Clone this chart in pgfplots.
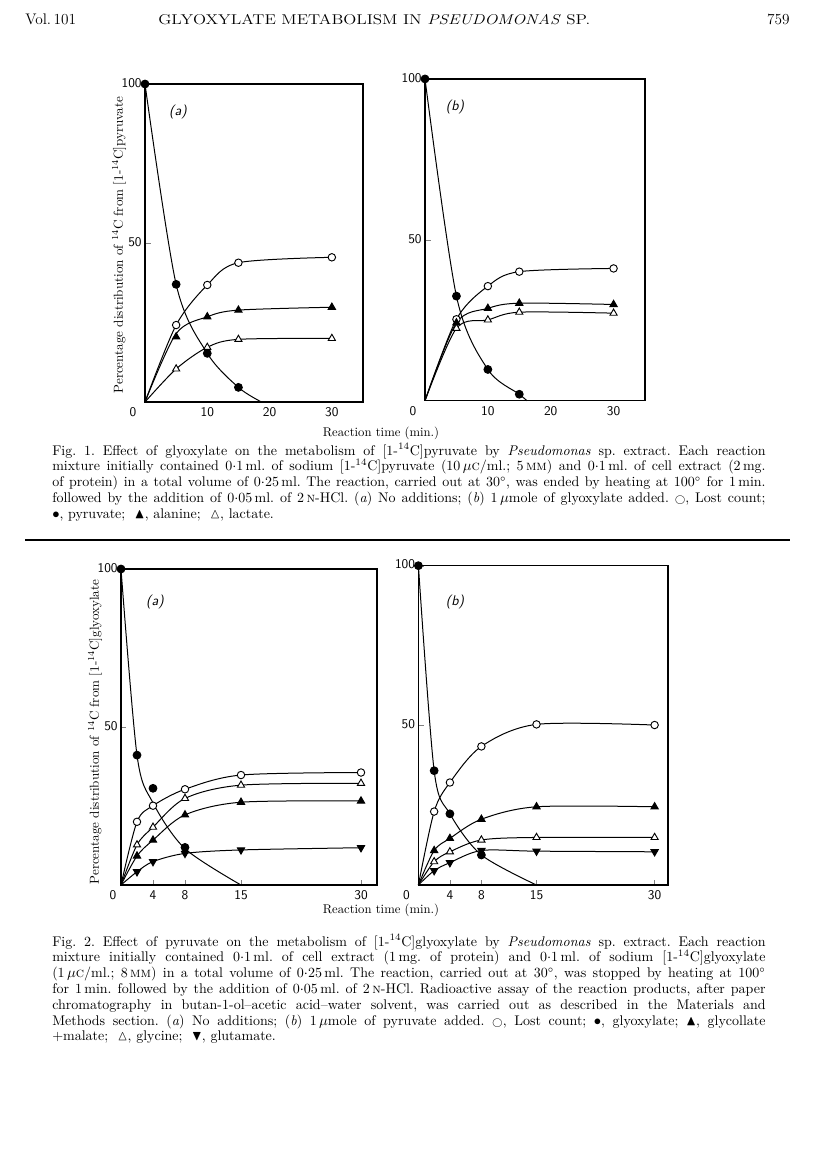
\documentclass[border=0pt]{standalone}
\usepackage{pgfplots}
\pgfplotsset{compat=1.18}
\usepackage{amssymb}
\usepackage{graphicx}
\pgfplotsset{
  pg/.style={scale only axis, xmin=0, ymin=0, ymax=100, clip=false,
    axis line style={line width=0.9pt}, tick pos=left, tick align=inside,
    major tick length=4.5pt, ytick={50,100},
    /pgf/number format/assume math mode=true,
    typeset ticklabels with strut,
    tick label style={font=\sffamily\fontsize{10}{12}\selectfont},
    yticklabel style={xshift=1pt},
    xticklabel style={yshift=1pt},
    every axis plot/.append style={line width=0.75pt, black}},
  cv/.style={smooth, no marks, tension=0.5},
  oc/.style={only marks, mark=*, mark size=2.8pt, mark options={fill=white, draw=black, line width=0.7pt}},
  fc/.style={only marks, mark=*, mark size=2.9pt, mark options={fill=black, draw=black}},
  ft/.style={only marks, mark=triangle*, mark size=3.1pt, mark options={fill=black, draw=black}},
  ot/.style={only marks, mark=triangle*, mark size=3.1pt, mark options={fill=white, draw=black, line width=0.7pt}},
  it/.style={only marks, mark=triangle*, mark size=3.1pt, mark options={fill=black, draw=black, rotate=180}},
}
\newcommand{\capfont}{\fontsize{10.5}{12}\selectfont\frenchspacing}
\newcommand{\capline}[3]{\node[anchor=base west, inner sep=0pt, font=\capfont] at (#1,#2) {\makebox[535pt][s]{#3}};}
\newcommand{\plab}{\sffamily\itshape\fontsize{10.5}{12}\selectfont}
\begin{document}
\begin{tikzpicture}
\begin{scope}[x=0.75pt,y=-0.75pt]
\fill[white] (0,0) rectangle (816,1159);
% header
\node[anchor=base west, inner sep=0pt, font=\fontsize{11.5}{13}\selectfont] at (25,25) {Vol.\,101};
\node[anchor=base west, inner sep=0pt, font=\fontsize{11}{13}\selectfont] at (158,25) {\resizebox{324pt}{7.6pt}{GLYOXYLATE METABOLISM IN \textit{PSEUDOMONAS} SP.}};
\node[anchor=base east, inner sep=0pt, font=\fontsize{11.5}{13}\selectfont] at (790,25) {759};

\node[font=\plab] at (178,112) {(a)};
\node[font=\plab] at (455,107) {(b)};
\node[rotate=90, font=\fontsize{9.8}{11}\selectfont] at (119,245) {Percentage distribution of \textsuperscript{14}C from [1-\textsuperscript{14}C]pyruvate};
\node[font=\fontsize{9.5}{11}\selectfont] at (381,433) {Reaction time (min.)};

\capline{52}{455}{Fig.~1. Effect of glyoxylate on the metabolism of [1-\textsuperscript{14}C]pyruvate by \textit{Pseudomonas} sp. extract. Each reaction}
\capline{52}{470.8}{mixture initially contained 0$\cdot$1\,ml. of sodium [1-\textsuperscript{14}C]pyruvate (10\,$\mu$\textsc{c}/ml.; 5\,\textsc{mm}) and 0$\cdot$1\,ml. of cell extract (2\,mg.}
\capline{52}{486.6}{of protein) in a total volume of 0$\cdot$25\,ml. The reaction, carried out at 30$^\circ$, was ended by heating at 100$^\circ$ for 1\,min.}
\capline{52}{502.4}{followed by the addition of 0$\cdot$05\,ml. of 2\,\textsc{n}-HCl. (\textit{a}) No additions; (\textit{b}) 1\,$\mu$mole of glyoxylate added. $\scriptstyle\bigcirc$, Lost count;}
\node[anchor=base west, inner sep=0pt, font=\capfont] at (52,518.2) {$\bullet$, pyruvate; \ $\blacktriangle$, alanine; \ $\vartriangle$, lactate.};

\draw[line width=1.1pt] (25,540) -- (790,540);

\node[font=\plab] at (155,602) {(a)};
\node[font=\plab] at (455,602) {(b)};
\node[rotate=90, font=\fontsize{9.8}{11}\selectfont] at (95,732) {Percentage distribution of \textsuperscript{14}C from [1-\textsuperscript{14}C]glyoxylate};
\node[font=\fontsize{9.5}{11}\selectfont] at (381,910) {Reaction time (min.)};

\capline{52}{946}{Fig.~2. Effect of pyruvate on the metabolism of [1-\textsuperscript{14}C]glyoxylate by \textit{Pseudomonas} sp. extract. Each reaction}
\capline{52}{961.8}{mixture initially contained 0$\cdot$1\,ml. of cell extract (1\,mg. of protein) and 0$\cdot$1\,ml. of sodium [1-\textsuperscript{14}C]glyoxylate}
\capline{52}{977.6}{(1\,$\mu$\textsc{c}/ml.; 8\,\textsc{mm}) in a total volume of 0$\cdot$25\,ml. The reaction, carried out at 30$^\circ$, was stopped by heating at 100$^\circ$}
\capline{52}{993.4}{for 1\,min. followed by the addition of 0$\cdot$05\,ml. of 2\,\textsc{n}-HCl. Radioactive assay of the reaction products, after paper}
\capline{52}{1009.2}{chromatography in butan-1-ol--acetic acid--water solvent, was carried out as described in the Materials and}
\capline{52}{1025}{Methods section. (\textit{a}) No additions; (\textit{b}) 1\,$\mu$mole of pyruvate added. $\scriptstyle\bigcirc$, Lost count; $\bullet$, glyoxylate; $\blacktriangle$, glycollate}
\node[anchor=base west, inner sep=0pt, font=\capfont] at (52,1040.8) {+malate; \ $\vartriangle$, glycine; \ $\blacktriangledown$, glutamate.};
\end{scope}

% ---------------- Fig 1 (a)
\begin{axis}[pg, at={(108.75pt,-301.5pt)}, anchor=south west, width=163.5pt, height=238.5pt,
  xmax=35, xtick={10,20,30}, major x tick style={draw=none},
  extra x ticks={0}, extra x tick style={xticklabel style={xshift=-9pt}, major tick length=0pt}]
\addplot[cv] coordinates {(0,0) (5,24.2) (10,36.8) (15,43.8) (30,45.5)};
\addplot[cv] coordinates {(0,0) (5,21.5) (10,26.8) (15,28.9) (30,29.8)};
\addplot[cv] coordinates {(0,0) (5,10.4) (10,17.2) (15,19.7) (30,20.0)};
\addplot[cv] coordinates {(0,100) (5,37) (10,15.3) (15,4.6) (18.7,0)};
\addplot[oc] coordinates {(5,24.2) (10,36.8) (15,43.8) (30,45.5)};
\addplot[ft] coordinates {(5,20.5) (10,26.8) (15,28.9) (30,29.8)};
\addplot[ot] coordinates {(5,10.4) (10,17.2) (15,19.7) (30,20.0)};
\addplot[fc] coordinates {(0,100) (5,37) (10,15.3) (15,4.6)};
\end{axis}
% ---------------- Fig 1 (b)
\begin{axis}[pg, at={(318.75pt,-300.5pt)}, anchor=south west, width=165pt, height=241.3pt,
  xmax=35, xtick={10,20,30}, major x tick style={draw=none},
  extra x ticks={0}, extra x tick style={xticklabel style={xshift=-9pt}, major tick length=0pt}]
\addplot[cv] coordinates {(0,0) (5,25.3) (10,35.6) (15,40.1) (30,41.1)};
\addplot[cv] coordinates {(0,0) (5,24.2) (10,28.7) (15,30.3) (30,29.9)};
\addplot[cv] coordinates {(0,0) (5,22.5) (10,25.1) (15,27.5) (30,27.2)};
\addplot[cv] coordinates {(0,100) (5,32.5) (10,9.7) (15,2.0) (16.2,0)};
\addplot[oc] coordinates {(5,25.3) (10,35.6) (15,40.1) (30,41.1)};
\addplot[ft] coordinates {(5,24.2) (10,28.7) (15,30.3) (30,29.9)};
\addplot[ot] coordinates {(5,22.5) (10,25.1) (15,27.5) (30,27.2)};
\addplot[fc] coordinates {(0,100) (5,32.5) (10,9.7) (15,2.0)};
\end{axis}

% ---------------- Fig 2 (a)
\begin{axis}[pg, at={(90.75pt,-663.75pt)}, anchor=south west, width=192pt, height=237pt,
  xmax=32, xtick={4,8,15,30}, major tick length=4pt,
  extra x ticks={0}, extra x tick style={xticklabel style={xshift=-6pt}, major tick length=0pt}]
\addplot[cv] coordinates {(0,0) (2,20.0) (4,25.1) (8,30.3) (15,34.8) (30,35.6)};
\addplot[cv] coordinates {(0,0) (2,12.7) (4,18.3) (8,27.4) (15,31.6) (30,32.2)};
\addplot[cv] coordinates {(0,0) (2,9.2) (4,14.2) (8,22.2) (15,26.2) (30,26.6)};
\addplot[cv] coordinates {(0,0) (2,4.2) (4,7.4) (8,10.0) (15,11.1) (30,11.8)};
\addplot[cv] coordinates {(0,100) (2,41.1) (4,26) (8,11.5) (15,0)};
\addplot[oc] coordinates {(2,20.0) (4,25.1) (8,30.3) (15,34.8) (30,35.6)};
\addplot[ot] coordinates {(2,12.7) (4,18.3) (8,27.4) (15,31.6) (30,32.2)};
\addplot[ft] coordinates {(2,9.2) (4,14.2) (8,22.2) (15,26.2) (30,26.6)};
\addplot[it] coordinates {(2,4.2) (4,7.4) (8,10.0) (15,11.1) (30,11.8)};
\addplot[fc] coordinates {(0,100) (2,41.1) (4,30.6) (8,11.9)};
\end{axis}
% ---------------- Fig 2 (b)
\begin{axis}[pg, at={(313.8pt,-663.75pt)}, anchor=south west, width=187.2pt, height=239.5pt,
  xmax=31.7, xtick={4,8,15,30}, major tick length=4pt,
  extra x ticks={0}, extra x tick style={xticklabel style={xshift=-9pt}, major tick length=0pt}]
\addplot[cv] coordinates {(0,0) (2,23.0) (4,32.1) (8,43.4) (15,50.3) (30,50.1)};
\addplot[cv] coordinates {(0,0) (2,10.8) (4,14.6) (8,20.6) (15,24.5) (30,24.5)};
\addplot[cv] coordinates {(0,0) (2,7.3) (4,10.4) (8,14.1) (15,14.9) (30,14.9)};
\addplot[cv] coordinates {(0,0) (2,4.5) (4,7.0) (8,10.8) (15,10.6) (30,10.4)};
\addplot[cv] coordinates {(0,100) (2,35.8) (4,22.3) (8,9.4) (15,0)};
\addplot[oc] coordinates {(2,23.0) (4,32.1) (8,43.4) (15,50.3) (30,50.1)};
\addplot[ft] coordinates {(2,10.8) (4,14.6) (8,20.6) (15,24.5) (30,24.5)};
\addplot[ot] coordinates {(2,7.3) (4,10.4) (8,14.1) (15,14.9) (30,14.9)};
\addplot[it] coordinates {(2,4.5) (4,7.0) (8,10.8) (15,10.6) (30,10.4)};
\addplot[fc] coordinates {(0,100) (2,35.8) (4,22.3) (8,9.4)};
\end{axis}
\end{tikzpicture}
\end{document}
